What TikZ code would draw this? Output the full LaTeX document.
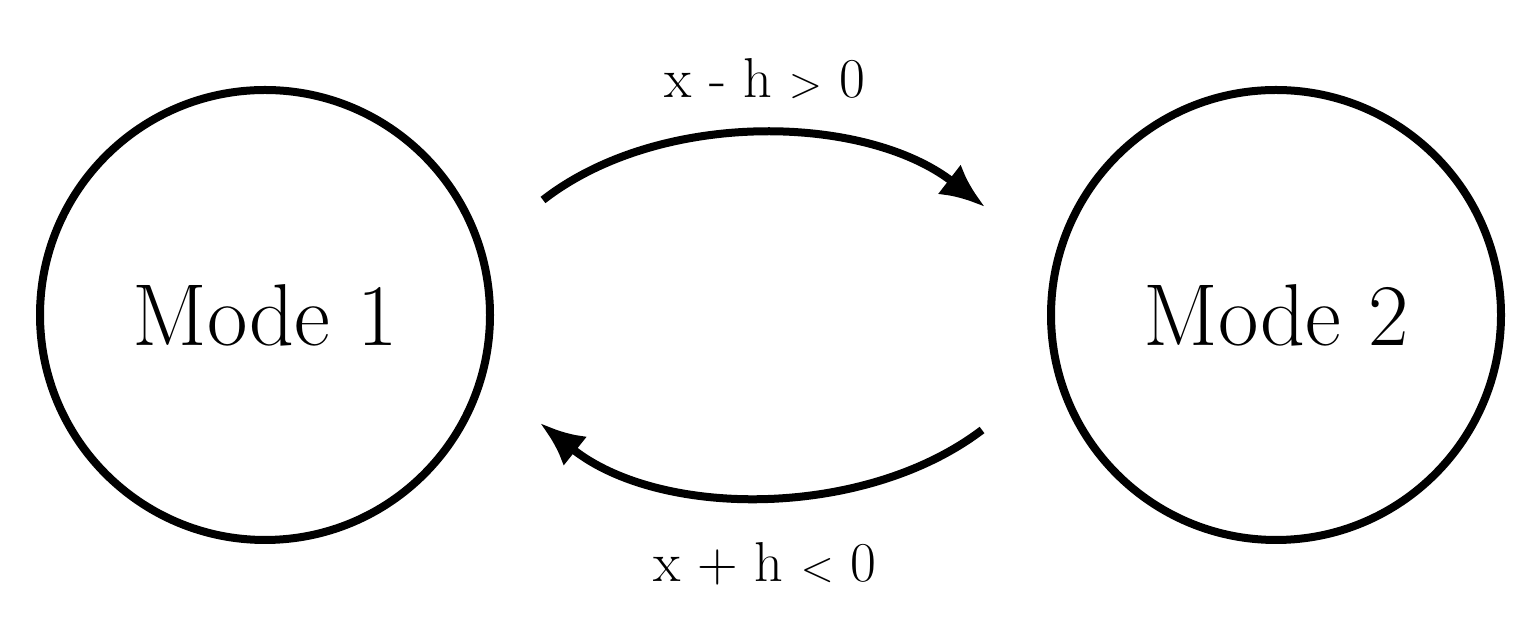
\documentclass[tikz,border=0pt]{standalone}
\usetikzlibrary{arrows.meta}
\begin{document}
\begin{tikzpicture}[
  modebox/.style={circle,draw,line width=0.16cm,minimum size=9cm,inner sep=0pt,font=\fontsize{50}{60}\selectfont},
  conn/.style={line width=0.16cm,-{Latex[length=0.9cm,width=0.75cm]}},
  lbl/.style={font=\fontsize{32}{38}\selectfont}]
\useasboundingbox (0,0) rectangle (30.72,12.48);
\node[modebox] (m1) at (5.3,6.18) {Mode 1};
\node[modebox] (m2) at (25.52,6.18) {Mode 2};
\coordinate (a1) at (10.86,8.48);
\coordinate (a2) at (19.7,8.34);
\coordinate (b1) at (19.64,3.88);
\coordinate (b2) at (10.8,4.02);
\draw[conn] (a1) .. controls (13.2,10.3) and (17.3,10.2) .. (a2);
\draw[conn] (b1) .. controls (17.3,2.1) and (13.2,2.1) .. (b2);
\node[lbl] (t1) at (15.3,10.9) {x - h $>$ 0};
\node[lbl] (t2) at (15.3,1.2) {x + h $<$ 0};
\end{tikzpicture}
\end{document}
